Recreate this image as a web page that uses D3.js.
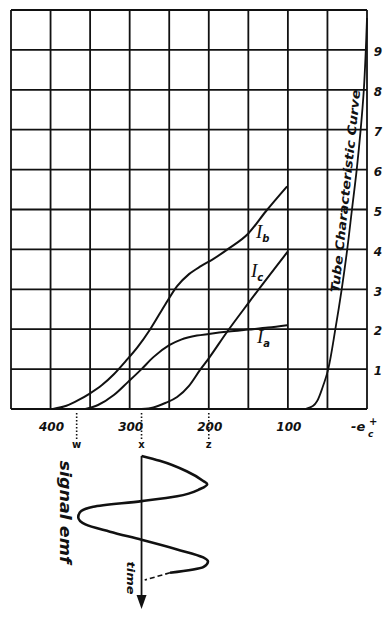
<!DOCTYPE html>
<html>
<head>
<meta charset="utf-8">
<script src="https://cdn.jsdelivr.net/npm/d3@7"></script>
<style>
  body { margin: 0; background: #fff; }
  svg { display: block; }
</style>
</head>
<body>
<svg id="chart" width="392" height="620"></svg>
<script>
// grid lines: negative grid bias -e_c (volts) and plate current (arbitrary units)
const gridVolts = [0, 50, 100, 150, 200, 250, 300, 350, 400, 450];
const gridCurrent = [0, 1, 2, 3, 4, 5, 6, 7, 8, 9, 10];
const voltLabels = [400, 300, 200, 100];
const currentLabels = [1, 2, 3, 4, 5, 6, 7, 8, 9];

// [ -e_c , current ]
const tubeCurve = [[78, 0], [68, 0.08], [63, 0.2], [56, 0.55], [49, 1], [40, 2], [32, 3], [25, 4], [19, 5], [13, 6], [8, 7], [4, 8], [1.5, 9], [0, 9.8]];
const curveIb = [[397, 0], [380, 0.08], [365, 0.22], [351, 0.38], [335, 0.6], [320, 0.87], [305, 1.2], [290, 1.55], [274, 2.0], [255, 2.62], [240, 3.08], [225, 3.38], [210, 3.58], [195, 3.75], [175, 4.02], [150, 4.4], [128, 4.95], [101, 5.58]];
const curveIa = [[356, 0], [340, 0.1], [320, 0.35], [302, 0.68], [285, 1.0], [270, 1.3], [250, 1.6], [235, 1.74], [215, 1.84], [200, 1.88], [175, 1.94], [150, 1.99], [125, 2.04], [101, 2.1]];
const curveIc = [[285, 0], [270, 0.04], [255, 0.15], [240, 0.3], [225, 0.58], [211, 0.98], [200, 1.27], [177, 1.93], [149, 2.68], [100, 3.95]];

// bias points marked under the axis
const markers = [{ label: "w", volts: 367 }, { label: "x", volts: 285 }, { label: "z", volts: 200 }];

// signal emf: [ time (periods), -e_c ]
const signalSolid = [[0, 285], [0.06, 262], [0.19, 228], [0.31, 207], [0.35, 202], [0.41, 211], [0.5, 240], [0.56, 285], [0.63, 346], [0.7, 363], [0.76, 365], [0.85, 356], [0.94, 325], [1.04, 285], [1.16, 240], [1.26, 207], [1.31, 201], [1.38, 207], [1.45, 249]];
const signalDashed = [[1.45, 249], [1.54, 281]];
const timeRange = [0, 1.9];

const ink = "#111";
const hand = "'DejaVu Sans', sans-serif";

const svg = d3.select("#chart");

const x = d3.scaleLinear().domain([450, 0]).range([11, 367]);
const y = d3.scaleLinear().domain([0, 10]).range([409, 10]);
const t = d3.scaleLinear().domain(timeRange).range([456, 609]);

// grid
svg.append("g").selectAll("line")
    .data(gridVolts)
    .enter().append("line")
    .attr("x1", d => x(d)).attr("x2", d => x(d))
    .attr("y1", y(0)).attr("y2", y(10))
    .style("stroke", ink).style("stroke-width", 1.8);

svg.append("g").selectAll("line")
    .data(gridCurrent)
    .enter().append("line")
    .attr("x1", x(450)).attr("x2", x(0))
    .attr("y1", d => y(d)).attr("y2", d => y(d))
    .style("stroke", ink).style("stroke-width", 1.8);

// curves
const line = d3.line()
    .x(d => x(d[0]))
    .y(d => y(d[1]))
    .curve(d3.curveMonotoneX);

[curveIb, curveIa, curveIc].forEach(c => {
    svg.append("path")
        .datum(c)
        .attr("d", line)
        .style("fill", "none")
        .style("stroke", ink)
        .style("stroke-width", 2);
});

svg.append("path")
    .datum(tubeCurve)
    .attr("d", d3.line().x(d => x(d[0])).y(d => y(d[1])).curve(d3.curveCatmullRom))
    .style("fill", "none")
    .style("stroke", ink)
    .style("stroke-width", 1.8);

// curve names
const names = [
    { sub: "b", x: 256, y: 238 },
    { sub: "c", x: 251, y: 277 },
    { sub: "a", x: 257, y: 343 }
];
names.forEach(n => {
    const txt = svg.append("text")
        .attr("x", n.x).attr("y", n.y)
        .style("font-family", "'Liberation Serif', serif")
        .style("font-style", "italic")
        .style("font-size", "19px")
        .style("fill", ink)
        .text("I");
    txt.append("tspan")
        .attr("dy", 4)
        .style("font-family", hand)
        .style("font-weight", "bold")
        .style("font-size", "10px")
        .text(n.sub);
});

// tube characteristic label along its curve
svg.append("text")
    .attr("transform", "translate(339,293) rotate(-84)")
    .attr("textLength", 204)
    .attr("lengthAdjust", "spacingAndGlyphs")
    .style("font-family", hand)
    .style("font-style", "italic")
    .style("font-weight", "bold")
    .style("font-size", "12px")
    .style("fill", ink)
    .text("Tube Characteristic Curve");

// right hand current labels
svg.append("g").selectAll("text")
    .data(currentLabels)
    .enter().append("text")
    .attr("x", 378)
    .attr("y", d => y(d) + 2)
    .attr("dy", "0.35em")
    .style("text-anchor", "middle")
    .style("font-family", hand)
    .style("font-style", "italic")
    .style("font-weight", "bold")
    .style("font-size", "12px")
    .style("fill", ink)
    .text(d => d);

// bottom volt labels
svg.append("g").selectAll("text")
    .data(voltLabels)
    .enter().append("text")
    .attr("x", d => x(d) + 1)
    .attr("y", 431)
    .style("text-anchor", "middle")
    .style("font-family", hand)
    .style("font-style", "italic")
    .style("font-weight", "bold")
    .style("font-size", "12px")
    .style("fill", ink)
    .text(d => d);

const ec = svg.append("g")
    .style("font-family", hand)
    .style("font-style", "italic")
    .style("font-weight", "bold")
    .style("fill", ink);
ec.append("text").attr("x", 351).attr("y", 431).style("font-size", "13px").text("-e");
ec.append("text").attr("x", 368).attr("y", 437).style("font-size", "9px").text("c");
ec.append("text").attr("x", 369).attr("y", 425).style("font-size", "10px").text("+");

// bias markers
svg.append("g").selectAll("line")
    .data(markers)
    .enter().append("line")
    .attr("x1", d => x(d.volts)).attr("x2", d => x(d.volts))
    .attr("y1", 413).attr("y2", 439)
    .style("stroke", ink)
    .style("stroke-width", 1.6)
    .style("stroke-dasharray", "1.5,2");

svg.append("g").selectAll("text")
    .data(markers)
    .enter().append("text")
    .attr("x", d => x(d.volts))
    .attr("y", 448)
    .style("text-anchor", "middle")
    .style("font-family", hand)
    .style("font-weight", "bold")
    .style("font-size", "10px")
    .style("fill", ink)
    .text(d => d.label);

// signal emf along the time axis
const bias = markers[1].volts;
svg.append("line")
    .attr("x1", x(bias)).attr("x2", x(bias))
    .attr("y1", t(timeRange[0])).attr("y2", t(timeRange[1]) - 10)
    .style("stroke", ink).style("stroke-width", 1.8);

svg.append("path")
    .attr("d", d3.line()([
        [x(bias) - 5, t(timeRange[1]) - 14],
        [x(bias) + 5, t(timeRange[1]) - 14],
        [x(bias), t(timeRange[1])]
    ]) + "Z")
    .style("fill", ink);

const wave = d3.line()
    .x(d => x(d[1]))
    .y(d => t(d[0]))
    .curve(d3.curveMonotoneY);

svg.append("path")
    .datum(signalSolid)
    .attr("d", wave)
    .style("fill", "none")
    .style("stroke", ink)
    .style("stroke-width", 2.6);

svg.append("path")
    .datum(signalDashed)
    .attr("d", wave)
    .style("fill", "none")
    .style("stroke", ink)
    .style("stroke-width", 1.6)
    .style("stroke-dasharray", "5,3");

svg.append("text")
    .attr("transform", "translate(60,512) rotate(90)")
    .attr("textLength", 103)
    .attr("lengthAdjust", "spacingAndGlyphs")
    .style("text-anchor", "middle")
    .style("font-family", hand)
    .style("font-style", "italic")
    .style("font-weight", "bold")
    .style("font-size", "15px")
    .style("fill", ink)
    .text("signal emf");

svg.append("text")
    .attr("transform", "translate(127,578) rotate(90)")
    .attr("textLength", 33)
    .attr("lengthAdjust", "spacingAndGlyphs")
    .style("text-anchor", "middle")
    .style("font-family", hand)
    .style("font-style", "italic")
    .style("font-weight", "bold")
    .style("font-size", "11px")
    .style("fill", ink)
    .text("time");
</script>
</body>
</html>
